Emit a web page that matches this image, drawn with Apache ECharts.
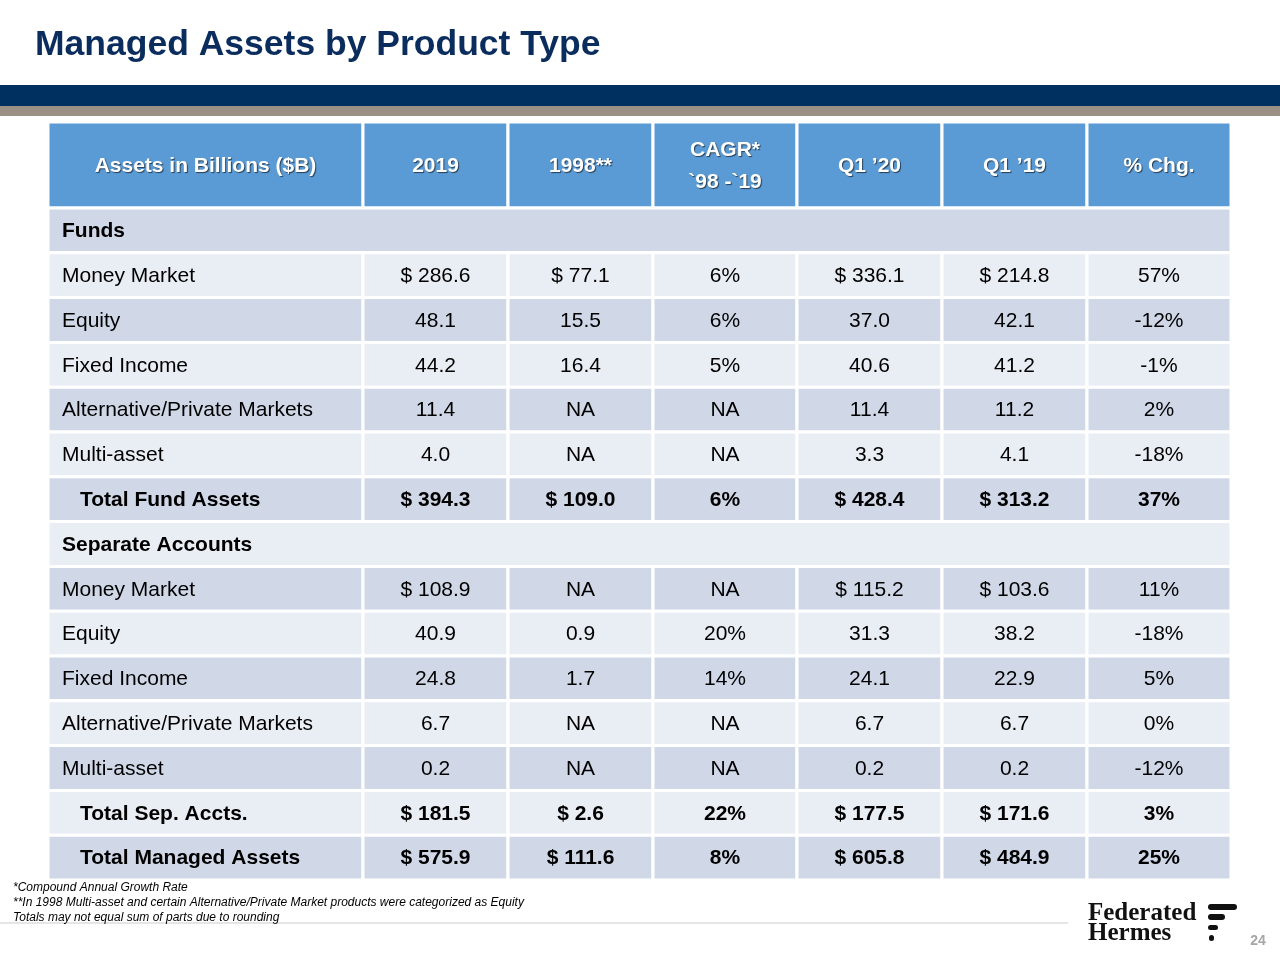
<!DOCTYPE html>
<html>
<head>
<meta charset="utf-8">
<script src="https://cdn.jsdelivr.net/npm/echarts@6/dist/echarts.min.js"></script>
<style>
html,body{margin:0;padding:0;background:#fff;}
#chart{width:1280px;height:960px;}
</style>
</head>
<body>
<div id="chart"></div>
<script>
// ---------------- DATA ----------------
const headers = ['Assets in Billions ($B)', '2019', '1998**', 'CAGR*\n`98 -`19', 'Q1 \u201920', 'Q1 \u201919', '% Chg.'];
const rowLabels = ['Funds', 'Money Market', 'Equity', 'Fixed Income', 'Alternative/Private Markets', 'Multi-asset', 'Total Fund Assets',
  'Separate Accounts', 'Money Market', 'Equity', 'Fixed Income', 'Alternative/Private Markets', 'Multi-asset', 'Total Sep. Accts.', 'Total Managed Assets'];
const rowKinds = ['section', 'item', 'item', 'item', 'item', 'item', 'total',
  'section', 'item', 'item', 'item', 'item', 'item', 'total', 'total'];
const val2019 = [null, 286.6, 48.1, 44.2, 11.4, 4.0, 394.3, null, 108.9, 40.9, 24.8, 6.7, 0.2, 181.5, 575.9];
const val1998 = [null, 77.1, 15.5, 16.4, 'NA', 'NA', 109.0, null, 'NA', 0.9, 1.7, 'NA', 'NA', 2.6, 111.6];
const cagr = [null, 6, 6, 5, 'NA', 'NA', 6, null, 'NA', 20, 14, 'NA', 'NA', 22, 8];
const q120 = [null, 336.1, 37.0, 40.6, 11.4, 3.3, 428.4, null, 115.2, 31.3, 24.1, 6.7, 0.2, 177.5, 605.8];
const q119 = [null, 214.8, 42.1, 41.2, 11.2, 4.1, 313.2, null, 103.6, 38.2, 22.9, 6.7, 0.2, 171.6, 484.9];
const pctChg = [null, 57, -12, -1, 2, -18, 37, null, 11, -18, 5, 0, -12, 3, 25];
const dollarRows = [1, 6, 8, 13, 14];
const footnotes = ['*Compound Annual Growth Rate',
  '**In 1998 Multi-asset and certain Alternative/Private Market products were categorized as Equity',
  'Totals may not equal sum of parts due to rounding'];
const pageNumber = '24';

// ---------------- LAYOUT / STYLE ----------------
const colEdges = [0, 315, 460, 605, 749, 894, 1039, 1183];
const headerH = 86;
const rowH = (758 - headerH) / 15;
const FONT = 'Arial, "Liberation Sans", Helvetica, sans-serif';
const C_HEAD = '#5b9bd5', C_DARK = '#d0d8e8', C_LIGHT = '#e9edf4';

function fmtMoney(v, r) {
  if (v === null) return '';
  if (v === 'NA') return 'NA';
  return (dollarRows.indexOf(r) >= 0 ? '$ ' : '') + v.toFixed(1);
}
function fmtPct(v) {
  if (v === null) return '';
  if (v === 'NA') return 'NA';
  return v + '%';
}

const cells = [];
const seriesData = [];
function addCell(x0, x1, y0, y1, info) {
  cells.push(info);
  seriesData.push([x0, x1, y0, y1, cells.length - 1]);
}
headers.forEach((h, c) => {
  addCell(colEdges[c], colEdges[c + 1], 0, headerH, {text: h, fill: C_HEAD, header: true, align: 'center'});
});
rowLabels.forEach((lab, r) => {
  const y0 = headerH + r * rowH, y1 = y0 + rowH;
  const fill = r % 2 === 0 ? C_DARK : C_LIGHT;
  const kind = rowKinds[r];
  if (kind === 'section') {
    addCell(colEdges[0], colEdges[7], y0, y1, {text: lab, fill, bold: true, align: 'left', pad: 14});
    return;
  }
  const bold = kind === 'total';
  addCell(colEdges[0], colEdges[1], y0, y1, {text: lab, fill, bold, align: 'left', pad: bold ? 32 : 14});
  const vals = [fmtMoney(val2019[r], r), fmtMoney(val1998[r], r), fmtPct(cagr[r]),
    fmtMoney(q120[r], r), fmtMoney(q119[r], r), fmtPct(pctChg[r])];
  vals.forEach((t, i) => {
    addCell(colEdges[i + 1], colEdges[i + 2], y0, y1, {text: t, fill, bold, align: 'center'});
  });
});

function renderItem(params, api) {
  const info = cells[api.value(4)];
  const p0 = api.coord([api.value(0), api.value(2)]);
  const p1 = api.coord([api.value(1), api.value(3)]);
  const x = p0[0], y = p0[1], w = p1[0] - p0[0], h = p1[1] - p0[1];
  const tx = info.align === 'left' ? x + info.pad : x + w / 2;
  const textStyle = {
    text: info.text,
    fill: info.header ? '#ffffff' : '#000000',
    font: (info.header || info.bold ? 'bold ' : '') + '21px ' + FONT,
    align: info.align, textAlign: info.align,
    verticalAlign: 'middle', textVerticalAlign: 'middle',
    lineHeight: 32
  };
  if (info.header) {
    textStyle.textShadowColor = 'rgba(0,0,0,0.6)';
    textStyle.textShadowBlur = 1;
    textStyle.textShadowOffsetX = 1;
    textStyle.textShadowOffsetY = 1;
  }
  return {
    type: 'group',
    children: [
      {type: 'rect', shape: {x: x, y: y, width: w, height: h}, style: {fill: info.fill, stroke: '#ffffff', lineWidth: 3}},
      {type: 'text', x: tx, y: y + h / 2 + 1, style: textStyle}
    ]
  };
}

const serif = 'bold 25px "Liberation Serif", "DejaVu Serif", serif';
const graphics = [
  {type: 'text', x: 35, y: 45, style: {text: 'Managed Assets by Product Type', font: 'bold 35.5px ' + FONT, fill: '#0b2d5e', verticalAlign: 'middle', textVerticalAlign: 'middle'}},
  {type: 'rect', shape: {x: 0, y: 85, width: 1280, height: 21}, style: {fill: '#00305f'}},
  {type: 'rect', shape: {x: 0, y: 106, width: 1280, height: 10}, style: {fill: '#9a9184'}},
  {type: 'line', shape: {x1: 0, y1: 923, x2: 1068, y2: 923}, style: {stroke: '#dcdcdc', lineWidth: 1.5}},
  {type: 'text', x: 1088, y: 914, style: {text: 'Federated', font: serif, fill: '#111', verticalAlign: 'middle', textVerticalAlign: 'middle'}},
  {type: 'text', x: 1088, y: 934, style: {text: 'Hermes', font: serif, fill: '#111', verticalAlign: 'middle', textVerticalAlign: 'middle'}},
  {type: 'rect', shape: {x: 1208, y: 904, width: 29, height: 6, r: 3}, style: {fill: '#111'}},
  {type: 'rect', shape: {x: 1208, y: 914, width: 17, height: 6, r: 3}, style: {fill: '#111'}},
  {type: 'rect', shape: {x: 1208, y: 925, width: 10, height: 5, r: 2.5}, style: {fill: '#111'}},
  {type: 'rect', shape: {x: 1209, y: 935, width: 5, height: 6, r: 2.5}, style: {fill: '#111'}},
  {type: 'text', x: 1258, y: 941, style: {text: pageNumber, font: 'bold 14px ' + FONT, fill: '#a6a6a6', align: 'center', textAlign: 'center', verticalAlign: 'middle', textVerticalAlign: 'middle'}}
];
footnotes.forEach((t, i) => {
  graphics.push({type: 'text', x: 13, y: 888 + i * 15, style: {text: t, font: 'italic 12px ' + FONT, fill: '#000', verticalAlign: 'middle', textVerticalAlign: 'middle'}});
});

const chart = echarts.init(document.getElementById('chart'), null, {renderer: 'canvas'});
chart.setOption({
  animation: false,
  backgroundColor: '#ffffff',
  grid: {left: 48, top: 122, width: 1183, height: 758},
  xAxis: {type: 'value', min: 0, max: colEdges[colEdges.length - 1], show: false},
  yAxis: {type: 'value', min: 0, max: headerH + 15 * rowH, inverse: true, show: false},
  series: [{
    type: 'custom',
    renderItem: renderItem,
    data: seriesData,
    encode: {x: [0, 1], y: [2, 3]},
    silent: true
  }],
  graphic: graphics
});
</script>
</body>
</html>
